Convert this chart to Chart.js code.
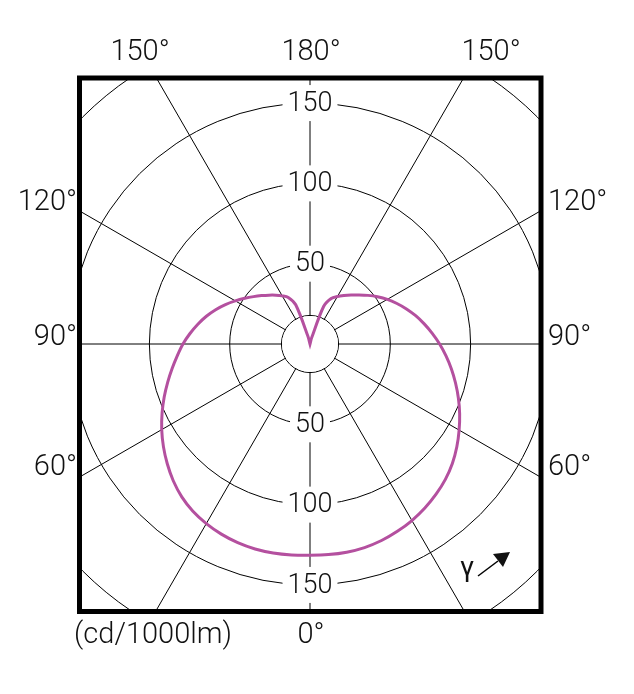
<!DOCTYPE html>
<html>
<head>
<meta charset="utf-8">
<script src="https://cdn.jsdelivr.net/npm/chart.js@4"></script>
<style>
  html, body { margin: 0; padding: 0; background: #fff; }
  #wrap { width: 634px; height: 694px; }
</style>
</head>
<body>
<div id="wrap"><canvas id="grafico" width="634" height="694"></canvas></div>
<script>
// gamma angles, 5 degree steps
const gammas = [0, 5, 10, 15, 20, 25, 30, 35, 40, 45, 50, 55, 60, 65, 70, 75, 80, 85, 90,
  95, 100, 105, 110, 115, 120, 125, 130, 135, 140, 145, 150, 155, 160, 165, 170, 175, 180];

// intensity (cd/1000lm), right half and left half
const rightSide = [131.5, 131.6, 131.6, 131.2, 130.2, 128.7, 126.9, 124.7, 122.1, 119.2, 115.7, 111.6, 107.2, 102.8, 98.3, 93.8, 89.4, 85, 80.7,
  76.4, 72.2, 68.1, 63.9, 59.7, 55.6, 51.3, 47.1, 43.2, 39.8, 36.8, 34.1, 31.2, 25, 4, 0, 0, 0];
const leftSide = [131.5, 131.8, 132.1, 132.1, 131.6, 130.6, 129.1, 127.1, 124.2, 120.4, 116, 111.4, 106.6, 101.6, 96.6, 91.7, 87.1, 82.9, 79.1,
  75, 70.9, 66.8, 62.5, 58.1, 53.7, 49.6, 45.9, 42.6, 39.7, 37.1, 34.6, 32, 26, 5, 0, 0, 0];

// rings of the radial scale and the ones that carry a label
const rings = [0, 17.8, 50, 100, 150, 200];
const ringLabels = [50, 100, 150];

const topLabels = ["150°", "180°", "150°"];
const sideLabels = ["120°", "90°", "60°"];
const bottomLabel = "0°";
const unitLabel = "(cd/1000lm)";

// radar goes clockwise from the top: right half 180 -> 0, then left half 5 -> 175
const labels = [];
const values = [];
for (let i = gammas.length - 1; i >= 0; i--) { labels.push(gammas[i]); values.push(rightSide[i]); }
for (let i = 1; i < gammas.length - 1; i++) { labels.push(gammas[i]); values.push(leftSide[i]); }

const FONT = "Roboto, 'Open Sans', 'DejaVu Sans', sans-serif";
const INK = "#111";

const framePlugin = {
  id: "frame",
  beforeDraw(chart) {
    const ctx = chart.ctx;
    ctx.save();
    ctx.beginPath();
    ctx.rect(79.5, 78, 461.5, 533.5);
    ctx.clip();
  },
  beforeDatasetsDraw(chart) {
    const s = chart.scales.r;
    const ctx = chart.ctx;
    ctx.save();
    // blank the middle so the spokes start at the small ring
    const r0 = s.getDistanceFromCenterForValue(rings[1]);
    ctx.fillStyle = "#fff";
    ctx.beginPath();
    ctx.arc(s.xCenter, s.yCenter, r0 - 0.6, 0, Math.PI * 2);
    ctx.fill();

    ctx.font = "300 27px " + FONT;
    ctx.textAlign = "center";
    ctx.textBaseline = "middle";
    ringLabels.forEach(v => {
      const r = s.getDistanceFromCenterForValue(v);
      const txt = String(v);
      const w = ctx.measureText(txt).width + 10;
      [-1, 1].forEach(dir => {
        const y = s.yCenter + dir * r;
        ctx.fillStyle = "#fff";
        ctx.fillRect(s.xCenter - w / 2, y - 18, w, 36);
        ctx.fillStyle = INK;
        ctx.fillText(txt, s.xCenter, y + 1);
      });
    });
    ctx.restore();
  },
  afterDraw(chart) {
    const ctx = chart.ctx;
    ctx.restore();

    ctx.save();
    ctx.strokeStyle = "#000";
    ctx.lineWidth = 5;
    ctx.strokeRect(79.5, 78, 461.5, 533.5);

    ctx.fillStyle = INK;
    ctx.font = "300 29px " + FONT;
    ctx.textBaseline = "middle";

    ctx.textAlign = "center";
    ctx.fillText(topLabels[0], 140, 53);
    ctx.fillText(topLabels[1], 311, 53);
    ctx.fillText(topLabels[2], 491, 53);
    ctx.fillText(bottomLabel, 311, 636);
    ctx.fillText(unitLabel, 153, 636);

    const sideY = [203, 338, 468];
    ctx.textAlign = "right";
    sideLabels.forEach((t, i) => ctx.fillText(t, 77, sideY[i]));
    ctx.textAlign = "left";
    sideLabels.forEach((t, i) => ctx.fillText(t, 548, sideY[i]));

    // gamma with direction arrow
    ctx.textAlign = "center";
    ctx.font = "400 28px " + FONT;
    ctx.fillText("γ", 467, 569);
    ctx.lineWidth = 1.5;
    ctx.beginPath();
    ctx.moveTo(478, 576);
    ctx.lineTo(498, 561);
    ctx.stroke();
    ctx.beginPath();
    ctx.moveTo(510, 552);
    ctx.lineTo(503, 567);
    ctx.lineTo(493, 554);
    ctx.closePath();
    ctx.fill();
    ctx.restore();
  }
};

new Chart(document.getElementById("grafico"), {
  type: "radar",
  data: {
    labels: labels,
    datasets: [{
      data: values,
      borderColor: "#b4509f",
      borderWidth: 3,
      pointRadius: 0,
      fill: false,
      tension: 0.3
    }]
  },
  options: {
    responsive: false,
    animation: false,
    layout: { padding: { left: 0, right: 14, top: 0, bottom: 6 } },
    plugins: {
      legend: { display: false },
      tooltip: { enabled: false }
    },
    scales: {
      r: {
        min: 0,
        max: 193,
        startAngle: 0,
        afterBuildTicks: s => { s.ticks = rings.map(v => ({ value: v })); },
        ticks: { display: false },
        grid: { circular: true, color: "#000", lineWidth: 1 },
        angleLines: {
          color: "#000",
          lineWidth: c => (labels[c.index] % 30 === 0 ? 1 : 0)
        },
        pointLabels: { display: false }
      }
    }
  },
  plugins: [framePlugin]
});
</script>
</body>
</html>
